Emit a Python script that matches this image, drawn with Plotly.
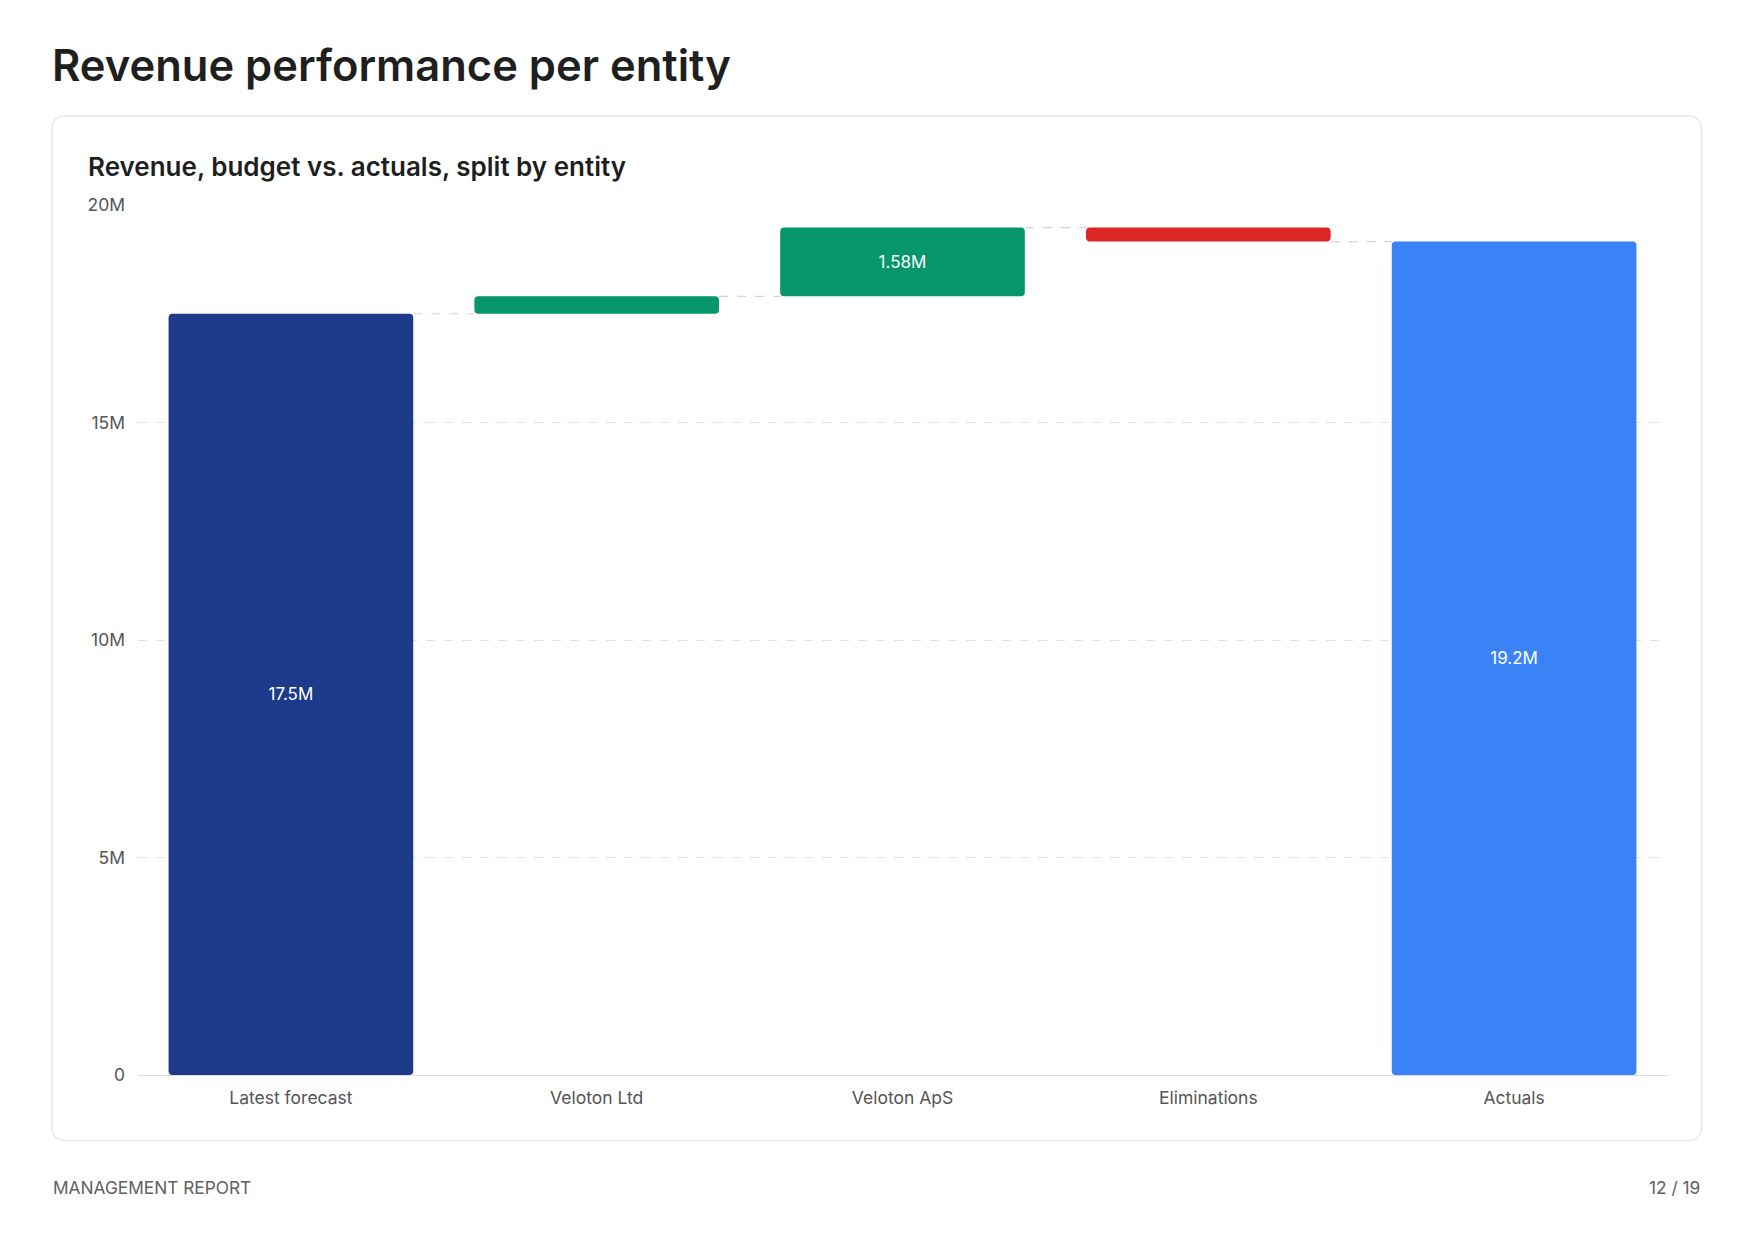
import plotly.graph_objects as go

# ---- data ----
categories = ["Latest forecast", "Veloton Ltd", "Veloton ApS", "Eliminations", "Actuals"]
measures = ["total", "relative", "relative", "relative", "total"]
values = [17.5e6, 0.40e6, 1.58e6, -0.32e6, None]  # Actuals computed as total
colors = ["#1E3A8A", "#059669", "#059669", "#DC2626", "#3B82F6"]
y_tickvals = [0, 5e6, 10e6, 15e6, 20e6]
y_ticktext = ["0", "5M", "10M", "15M", "20M"]

# ---- compute waterfall bases from data ----
bases, heights, levels = [], [], []
running = 0.0
for m, v in zip(measures, values):
    if m == "total":
        if v is not None:
            running = v
        bases.append(0.0)
        heights.append(running)
    else:
        bases.append(running)
        heights.append(v)
        running += v
    levels.append(running)

labels = [f"{abs(h)/1e6:.3g}M" if abs(h) >= 1e6 else "" for h in heights]
xpos = list(range(len(categories)))
BW = 0.8

# ---- layout geometry (pixels) ----
W, H = 1754, 1241
L, R, T, B = 137.6, 87, 204.5, 166
PW = W - L - R
PH = H - T - B


def px(x):
    return (x - L) / PW


def py(y):
    return (H - B - y) / PH


fig = go.Figure()

fig.add_trace(go.Bar(
    x=xpos, y=heights, base=bases, width=BW,
    marker=dict(color=colors, cornerradius=4, line=dict(width=0)),
    text=labels, textposition="inside", insidetextanchor="middle",
    textfont=dict(family="Inter", size=17, color="white"),
    textangle=0, hoverinfo="skip", showlegend=False,
))

# connectors
cx, cy = [], []
for i in range(len(categories) - 1):
    cx += [xpos[i] + BW / 2, xpos[i + 1] - BW / 2, None]
    cy += [levels[i], levels[i], None]
fig.add_trace(go.Scatter(
    x=cx, y=cy, mode="lines",
    line=dict(color="#d4d4d4", width=1.2, dash="dash"),
    hoverinfo="skip", showlegend=False,
))

# card rounded rectangle
cx0, cy0, cx1, cy1, r = 51.5, 115.5, 1701.5, 1140.5, 14
rx, ry = r / PW, r / PH
X0, X1, Y0, Y1 = px(cx0), px(cx1), py(cy1), py(cy0)
path = (f"M {X0+rx},{Y1} L {X1-rx},{Y1} Q {X1},{Y1} {X1},{Y1-ry} "
        f"L {X1},{Y0+ry} Q {X1},{Y0} {X1-rx},{Y0} L {X0+rx},{Y0} "
        f"Q {X0},{Y0} {X0},{Y0+ry} L {X0},{Y1-ry} Q {X0},{Y1} {X0+rx},{Y1} Z")
fig.add_shape(type="path", path=path, xref="paper", yref="paper",
              line=dict(color="#e8e8e8", width=1.5), fillcolor="rgba(0,0,0,0)",
              layer="below")

ann = [
    dict(text="Revenue performance per entity", x=px(50), y=py(64),
         font=dict(family="Inter", size=43.5, color="#1f1f1f", weight=600)),
    dict(text="Revenue, budget vs. actuals, split by entity", x=px(86), y=py(166),
         font=dict(family="Inter", size=26, color="#1f1f1f", weight=600)),
    dict(text="MANAGEMENT REPORT", x=px(51), y=py(1188),
         font=dict(family="Inter", size=17.3, color="#606060")),
]
for a in ann:
    fig.add_annotation(xref="paper", yref="paper", xanchor="left", yanchor="middle",
                       showarrow=False, **a)
fig.add_annotation(text="12 / 19", x=px(1702), y=py(1188), xref="paper", yref="paper",
                   xanchor="right", yanchor="middle", showarrow=False,
                   font=dict(family="Inter", size=17.3, color="#606060"))

fig.update_layout(
    width=W, height=H,
    margin=dict(l=L, r=R, t=T, b=B, autoexpand=False),
    paper_bgcolor="white", plot_bgcolor="white",
    font=dict(family="Inter", color="#555"),
    bargap=0.2,
    xaxis=dict(
        range=[-0.5, len(categories) - 0.5],
        tickvals=xpos, ticktext=categories,
        showgrid=False, zeroline=False,
        showline=True, linecolor="#dcdcdc", linewidth=1.2,
        ticks="", ticklabelstandoff=7,
        tickfont=dict(family="Inter", size=17.5, color="#555"),
        fixedrange=True,
    ),
    yaxis=dict(
        range=[0, 20e6],
        tickvals=y_tickvals, ticktext=y_ticktext,
        showgrid=True, gridcolor="#e2e2e2", griddash="dash", gridwidth=1,
        zeroline=False, showline=False,
        ticks="", ticklabelstandoff=12,
        tickfont=dict(family="Inter", size=17.5, color="#555"),
        fixedrange=True,
    ),
)

fig.write_html("out.html")
